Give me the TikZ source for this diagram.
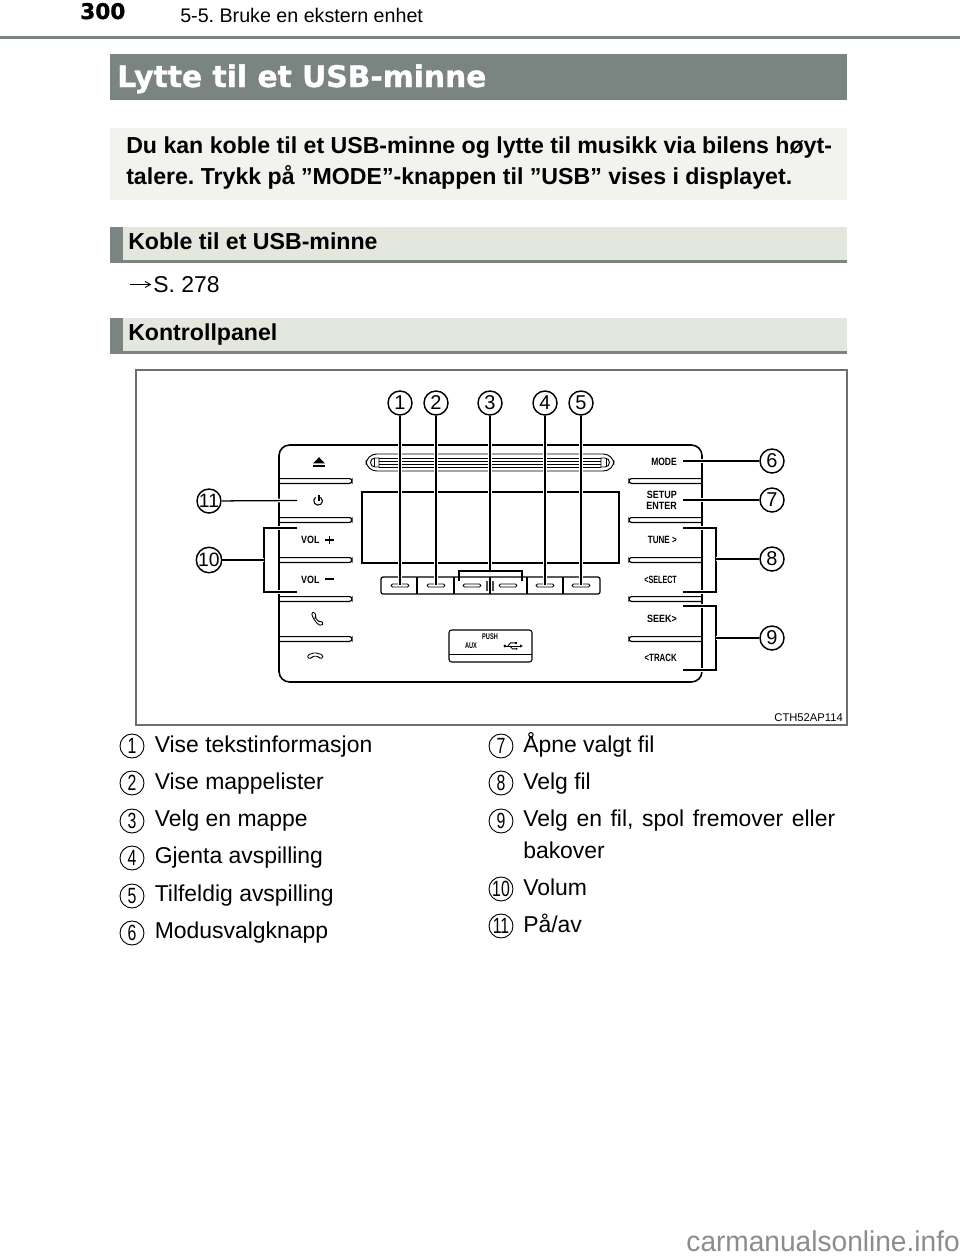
\documentclass[tikz,border=0pt]{standalone}
\usepackage{fontspec}
\setmainfont{Liberation Sans}
\newfontfamily\djv[BoldFeatures={FakeBold=1.1}]{DejaVu Sans}
\newcommand{\fpt}[1]{\fontsize{#1}{#1}\selectfont}
\definecolor{ruleC}{HTML}{7A8581}
\definecolor{introC}{HTML}{F2F3EF}
\definecolor{secC}{HTML}{E3E7DE}
\definecolor{frameC}{HTML}{6E6E6E}
\tikzset{
  x=0.75pt,y=-0.75pt,
  ink/.style={draw=black,line width=1.1pt},
  thin ink/.style={draw=black,line width=0.7pt},
  leader/.style={draw=black,line width=0.95pt,preaction={draw=white,line width=2.8pt}},
  callout/.style={circle,draw=black,fill=white,line width=1.1pt,minimum size=18pt,inner sep=0pt,font=\fpt{15}},
  listnum/.style={circle,draw=black,line width=0.7pt,fill=white,minimum size=18pt,inner sep=0pt},
  txt/.style={anchor=base west,inner sep=0pt,font=\fpt{17.2}},
  boldtxt/.style={anchor=base west,inner sep=0pt,font=\fpt{17.35}\bfseries},
  pl/.style={inner sep=0pt,font=\fpt{7.9}\bfseries,xscale=.85},
  plr/.style={pl,anchor=mid east},
  barshape/.style={draw=black,fill=white,line width=0.9pt,rounded corners=1.9pt},
  pill/.style={draw=black,fill=white,line width=0.7pt,rounded corners=1.1pt}
}
\newcommand{\numc}[3]{%
  \node[listnum] (#1) at (#2) {\raisebox{-0.3pt}{\scalebox{0.72}[1]{\fpt{16.5}#3}}};}
\begin{document}
\frenchspacing
\begin{tikzpicture}
\useasboundingbox (0,0) rectangle (960,1257);
\fill[white] (0,0) rectangle (960,1257);
% header
\fill[ruleC] (0,35.5) rectangle (960,38.5);
\node[anchor=base west,inner sep=0pt,font=\djv\fpt{16.2}\bfseries] (pageno) at (80,19) {300};
\node[anchor=base west,inner sep=0pt,font=\fpt{14.75}] (chap) at (180,22) {5-5. Bruke en ekstern enhet};
% title
\fill[ruleC] (110,54) rectangle (847,100);
\node[anchor=base west,inner sep=0pt,text=white,font=\djv\fpt{22.3}\bfseries] (title) at (117,87) {Lytte til et USB-minne};
% intro
\fill[introC] (110,128) rectangle (847,200);
\node[boldtxt] (intro1) at (126,153) {Du kan koble til et USB-minne og lytte til musikk via bilens høyt-};
\node[boldtxt] (intro2) at (126,184) {talere. Trykk på ”MODE”-knappen til ”USB” vises i displayet.};
% sections
\fill[secC] (110,227) rectangle (847,262);
\fill[ruleC] (110,227) rectangle (123,262);
\fill[ruleC] (110,260) rectangle (847,262.6);
\node[boldtxt] (sec1) at (128,249) {Koble til et USB-minne};
\draw[black,line width=.65pt] (130,284.5) -- (150,284.5) (145,281.5) -- (150.5,284.5) -- (145,287.5);
\node[txt] (ref) at (153,292) {S. 278};
\fill[secC] (110,318) rectangle (847,353);
\fill[ruleC] (110,318) rectangle (123,353);
\fill[ruleC] (110,351) rectangle (847,353.6);
\node[boldtxt] (sec2) at (128,340) {Kontrollpanel};
% frame
\draw[frameC,line width=0.8pt] (136,370) rectangle (847,725);
\node[anchor=base east,inner sep=0pt,font=\fpt{8.4}] (code) at (843,721) {CTH52AP114};
% panel bars
\foreach \y in {481,520,560,599,639}{
  \draw[barshape] (270,\y-2.4) rectangle (352,\y+2.4);
  \draw[barshape] (629,\y-2.4) rectangle (712,\y+2.4);
}
\fill[white] (262,470) rectangle (279,650);
\fill[white] (702.7,470) rectangle (720,650);
% panel
\draw[ink,line width=1.2pt,rounded corners=8pt] (279,445) rectangle (702,682);
% slot
\draw[thin ink,rounded corners=8pt] (366,454) rectangle (614,471);
\foreach \y in {458,461,464,467}{\draw[thin ink] (379,\y) -- (601,\y);}
\draw[thin ink] (379,458) -- (375,458) arc (-90:-270:4.5) -- (379,467) -- cycle;
\draw[thin ink] (601,458) -- (605,458) arc (-90:90:4.5) -- (601,467) -- cycle;
\draw[thin ink] (374,458) -- (374,467) (606,458) -- (606,467);
% display
\draw[ink,line width=0.9pt] (362,492) rectangle (619,563);
% button row
\draw[ink,line width=0.9pt,rounded corners=1.5pt] (381,577) rectangle (600,594);
\foreach \x in {417,454,490,527,563}{\draw[ink,line width=0.8pt] (\x,577) -- (\x,594);}
\foreach \x in {400,436,472,508,545,581}{\draw[pill] (\x-9,584) rectangle (\x+9,587);}
\draw[black!70,line width=1pt] (487,581) -- (487,591) (493,581) -- (493,591);
% usb box
\draw[ink,line width=0.8pt,rounded corners=2pt] (449,630) rectangle (532,662);
\draw[thin ink] (449,654) -- (532,654);
\node[pl,font=\fpt{6.2}\bfseries,xscale=.8] (push) at (490,636.5) {PUSH};
\node[pl,font=\fpt{6.2}\bfseries,xscale=.8] (aux) at (471,646) {AUX};
\fill[black] (504.8,646) circle (1.5);
\draw[thin ink] (505,646) -- (520,646);
\fill[black] (520,644.4) -- (522.8,646) -- (520,647.6) -- cycle;
\draw[thin ink] (508,646) -- (510.5,642.8) -- (515,642.8) (510,646) -- (512.5,648.8) -- (516,648.8);
\fill[black] (515,641.7) rectangle (516.6,643.6);
\fill[black] (516.6,648.8) circle (1);
% panel texts and icons
\fill[black] (319,457.2) -- (325,463.4) -- (313,463.4) -- cycle;
\fill[black] (313,465) rectangle (325,466.8);
\draw[black,line width=.8pt] (315.6,497.3) arc (-125:-415:4.3);
\draw[black,line width=.8pt] (319,495.4) -- (319,501);
\draw[black,line width=.65pt,rounded corners=1pt] (311.5,612.8) -- (314.5,612) -- (316,616) -- (315,617.4) -- (319,622) -- (321,621) -- (323.5,623.5) -- (321.5,625.5) -- (318,624.5) -- (313,618) -- cycle;
\draw[black,line width=.65pt,rounded corners=1pt] (307.5,658) -- (308,654.8) -- (315,652.6) -- (322.5,654.8) -- (323,658) -- (319.4,658.4) -- (318.4,656.3) -- (312.4,656.3) -- (311.4,658.4) -- cycle;
\node[pl,anchor=mid west] (volp) at (301,540) {VOL};
\draw[black,line width=1pt] (325,540) -- (333.5,540) (329.2,535.8) -- (329.2,544.2);
\node[pl,anchor=mid west] (volm) at (301,580) {VOL};
\draw[black,line width=1pt] (325,579) -- (333.5,579);
\node[plr,xscale=.95] (mode) at (677,461.5) {MODE};
\node[plr] (setup) at (677,495) {SETUP};
\node[plr] (enter) at (677,506) {ENTER};
\node[plr,xscale=.9] (tune) at (677,540) {TUNE >};
\node[plr,xscale=.8] (select) at (677,580) {<SELECT};
\node[plr] (seek) at (677,619) {SEEK>};
\node[plr,xscale=.88] (track) at (677,658) {<TRACK};
% callouts
\node[callout] (c1) at (400,403) {1};
\node[callout] (c2) at (436,403) {2};
\node[callout] (c3) at (490,403) {3};
\node[callout] (c4) at (545,403) {4};
\node[callout] (c5) at (581,403) {5};
\node[callout] (c6) at (772,461) {6};
\node[callout] (c7) at (772,500) {7};
\node[callout] (c8) at (772,559) {8};
\node[callout] (c9) at (772,638) {9};
\node[callout,font=\fpt{14.5}] (c10) at (209,560) {10};
\node[callout,font=\fpt{14.5}] (c11) at (209,501) {11};
% leader ends
\coordinate (e1) at (400,585);
\coordinate (e2) at (436,585);
\coordinate (e3) at (490,571);
\coordinate (e4) at (545,585);
\coordinate (e5) at (581,585);
\coordinate (e6) at (683,461);
\coordinate (e7) at (683,500);
\coordinate (e11) at (297,500.5);
\coordinate (j8) at (716,559);
\coordinate (j9) at (716,638);
\coordinate (j10) at (264,560);
\draw[leader] (c1) -- (e1);
\draw[leader] (c2) -- (e2);
\draw[leader] (c3) -- (e3);
\draw[leader] (c4) -- (e4);
\draw[leader] (c5) -- (e5);
\draw[leader] (c6) -- (e6);
\draw[leader] (c7) -- (e7);
\draw[leader] (c11) -- (e11);
\draw[ink,line width=.9pt] (459,581) -- (459,571) -- (522,571) -- (522,581);
\draw[leader] (683,528) -- (716,528) -- (716,592) -- (683,592);
\draw[leader] (683,606) -- (716,606) -- (716,670) -- (683,670);
\draw[leader] (297,528) -- (264,528) -- (264,592) -- (297,592);
\draw[leader] (c8) -- (j8);
\draw[leader] (c9) -- (j9);
\draw[leader] (c10) -- (j10);
% lists
\numc{n1}{132,746}{1}\node[txt] (t1) at (154.5,752) {Vise tekstinformasjon};
\numc{n2}{132,783}{2}\node[txt] (t2) at (154.5,789) {Vise mappelister};
\numc{n3}{132,821}{3}\node[txt] (t3) at (154.5,826.5) {Velg en mappe};
\numc{n4}{132,858}{4}\node[txt] (t4) at (154.5,863.5) {Gjenta avspilling};
\numc{n5}{132,896}{5}\node[txt] (t5) at (154.5,901) {Tilfeldig avspilling};
\numc{n6}{132,933}{6}\node[txt] (t6) at (154.5,938.5) {Modusvalgknapp};
\numc{n7}{501,746}{7}\node[txt] (t7) at (523,752) {Åpne valgt fil};
\numc{n8}{501,783}{8}\node[txt] (t8) at (523,789) {Velg fil};
\numc{n9}{501,821}{9}\node[txt] (t9) at (523,826.5) {\makebox[234pt][s]{Velg en fil, spol fremover eller}};
\node[txt] (t9b) at (523,858) {bakover};
\numc{n10}{501,889}{10}\node[txt] (t10) at (523,895) {Volum};
\numc{n11}{501,926}{11}\node[txt] (t11) at (523,932) {På/av};
% watermark
\node[anchor=base east,inner sep=0pt,text=black!45,font=\fpt{21.5},xscale=.98] (wm) at (960,1251) {carmanualsonline.info};
\end{tikzpicture}
\end{document}
